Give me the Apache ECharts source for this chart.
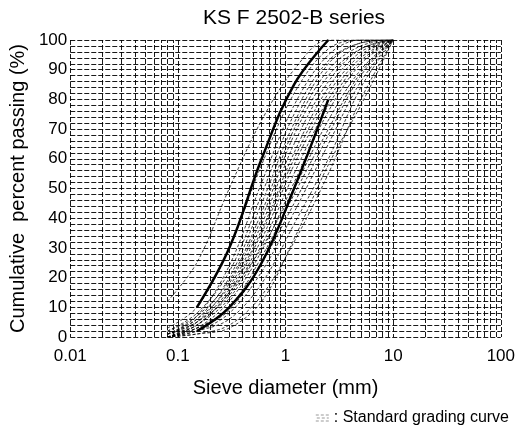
<!DOCTYPE html>
<html>
<head>
<meta charset="utf-8">
<script src="https://cdn.jsdelivr.net/npm/echarts@6/dist/echarts.min.js"></script>
<style>
  html, body { margin: 0; padding: 0; background: #fff; }
  #chart { width: 518px; height: 434px; }
</style>
</head>
<body>
<div id="chart"></div>
<script>
// sieve sizes (mm)
var sieveSizes = [0.08, 0.15, 0.3, 0.6, 1.2, 2.5, 5, 10];
var limitSizes = [0.15, 0.3, 0.6, 1.2, 2.5];
// grading limits (%)
var upperLimit = [10, 30, 60, 85, 100];
var lowerLimit = [2, 10, 25, 50, 80];
// standard grading curves (% passing at each sieve)
var gradingCurves = [
  [12, 25, 50, 73, 90, 100, 100, 100],
  [3, 10, 30, 58, 82, 97, 100, 100],
  [1, 7, 24, 52, 78, 95, 100, 100],
  [2, 8, 22, 48, 75, 93, 99, 100],
  [1, 6, 20, 45, 72, 92, 99, 100],
  [2, 7, 19, 42, 70, 90, 98, 100],
  [0, 5, 18, 40, 68, 88, 97, 100],
  [1, 6, 17, 38, 65, 86, 97, 100],
  [1, 5, 16, 36, 62, 84, 96, 100],
  [0, 4, 15, 35, 60, 82, 95, 100],
  [1, 5, 14, 33, 58, 80, 94, 100],
  [0, 4, 13, 31, 55, 78, 93, 100],
  [0, 3, 12, 29, 52, 76, 92, 100],
  [1, 4, 15, 30, 50, 73, 90, 100],
  [0, 3, 10, 27, 48, 70, 89, 100],
  [0, 3, 9, 25, 45, 68, 88, 100],
  [0, 2, 8, 22, 42, 65, 86, 100],
  [0, 2, 6, 18, 38, 60, 84, 100],
  [0, 1, 4, 14, 32, 55, 80, 100],
  [0, 1, 3, 12, 33, 58, 78, 100]
];
// minor log grid positions
var minorX = [];
[0.01, 0.1, 1, 10].forEach(function (d) {
  for (var k = 2; k <= 9; k++) minorX.push(+(d * k).toPrecision(3));
});

var gridStyle = { color: '#000', width: 1, type: [5, 2], opacity: 0.9 };
var font = 'Liberation Sans, Arial, sans-serif';

function pairs(xs, ys) {
  return xs.map(function (x, i) { return [x, ys[i]]; });
}

var series = [];
gradingCurves.forEach(function (c) {
  series.push({
    name: 'Standard grading curve',
    type: 'line',
    data: pairs(sieveSizes, c),
    smooth: 0.35,
    symbol: 'none',
    lineStyle: { color: '#000', width: 1, type: [3, 2], opacity: 0.75 },
    z: 3
  });
});
series.push({
  name: 'upper',
  type: 'line',
  data: pairs(limitSizes, upperLimit),
  smooth: 0.4,
  symbol: 'none',
  lineStyle: { color: '#000', width: 2.5 },
  z: 5,
  markLine: {
    silent: true,
    symbol: 'none',
    label: { show: false },
    lineStyle: gridStyle,
    data: minorX.map(function (v) { return { xAxis: v }; }),
    z: 1
  }
});
series.push({
  name: 'lower',
  type: 'line',
  data: pairs(limitSizes, lowerLimit),
  smooth: 0.4,
  symbol: 'none',
  lineStyle: { color: '#000', width: 2.5 },
  z: 5
});

var chart = echarts.init(document.getElementById('chart'));
chart.setOption({
  animation: false,
  backgroundColor: '#fff',
  textStyle: { fontFamily: font },
  title: {
    text: 'KS F 2502-B series',
    left: 198,
    top: 3,
    textStyle: { fontFamily: font, fontSize: 21, fontWeight: 'normal', color: '#000' }
  },
  legend: {
    data: ['Standard grading curve'],
    right: 4,
    bottom: 3,
    itemWidth: 13,
    itemHeight: 7,
    itemGap: 4,
    icon: 'path://M0,0H3V1H0ZM5,0H8V1H5ZM10,0H13V1H10ZM1,3H4V4H1ZM6,3H9V4H6ZM11,3H13V4H11ZM0,6H3V7H0ZM5,6H8V7H5ZM10,6H13V7H10Z',
    itemStyle: { color: '#999' },
    formatter: function (n) { return ': ' + n; },
    textStyle: { fontFamily: font, fontSize: 16, color: '#000' },
    selectedMode: false
  },
  grid: { left: 63, right: 10, top: 40, bottom: 97 },
  xAxis: {
    type: 'log',
    logBase: 10,
    min: 0.01,
    max: 100,
    name: 'Sieve diameter (mm)',
    nameLocation: 'middle',
    nameGap: 41,
    nameTextStyle: { fontFamily: font, fontSize: 20, color: '#000' },
    axisLine: { show: false },
    axisTick: { show: false },
    axisLabel: { fontFamily: font, fontSize: 17, color: '#000', margin: 11 },
    splitLine: { show: true, lineStyle: gridStyle }
  },
  yAxis: {
    type: 'value',
    min: 0,
    max: 100,
    interval: 10,
    name: 'Cumulative  percent passing (%)',
    nameLocation: 'middle',
    nameGap: 38,
    nameTextStyle: { fontFamily: font, fontSize: 20, color: '#000' },
    axisLine: { show: false },
    axisTick: { show: false },
    axisLabel: { fontFamily: font, fontSize: 17, color: '#000', margin: 3 },
    splitLine: { show: true, lineStyle: gridStyle },
    minorTick: { show: false, splitNumber: 5 },
    minorSplitLine: { show: true, lineStyle: gridStyle }
  },
  series: series
});
</script>
</body>
</html>
